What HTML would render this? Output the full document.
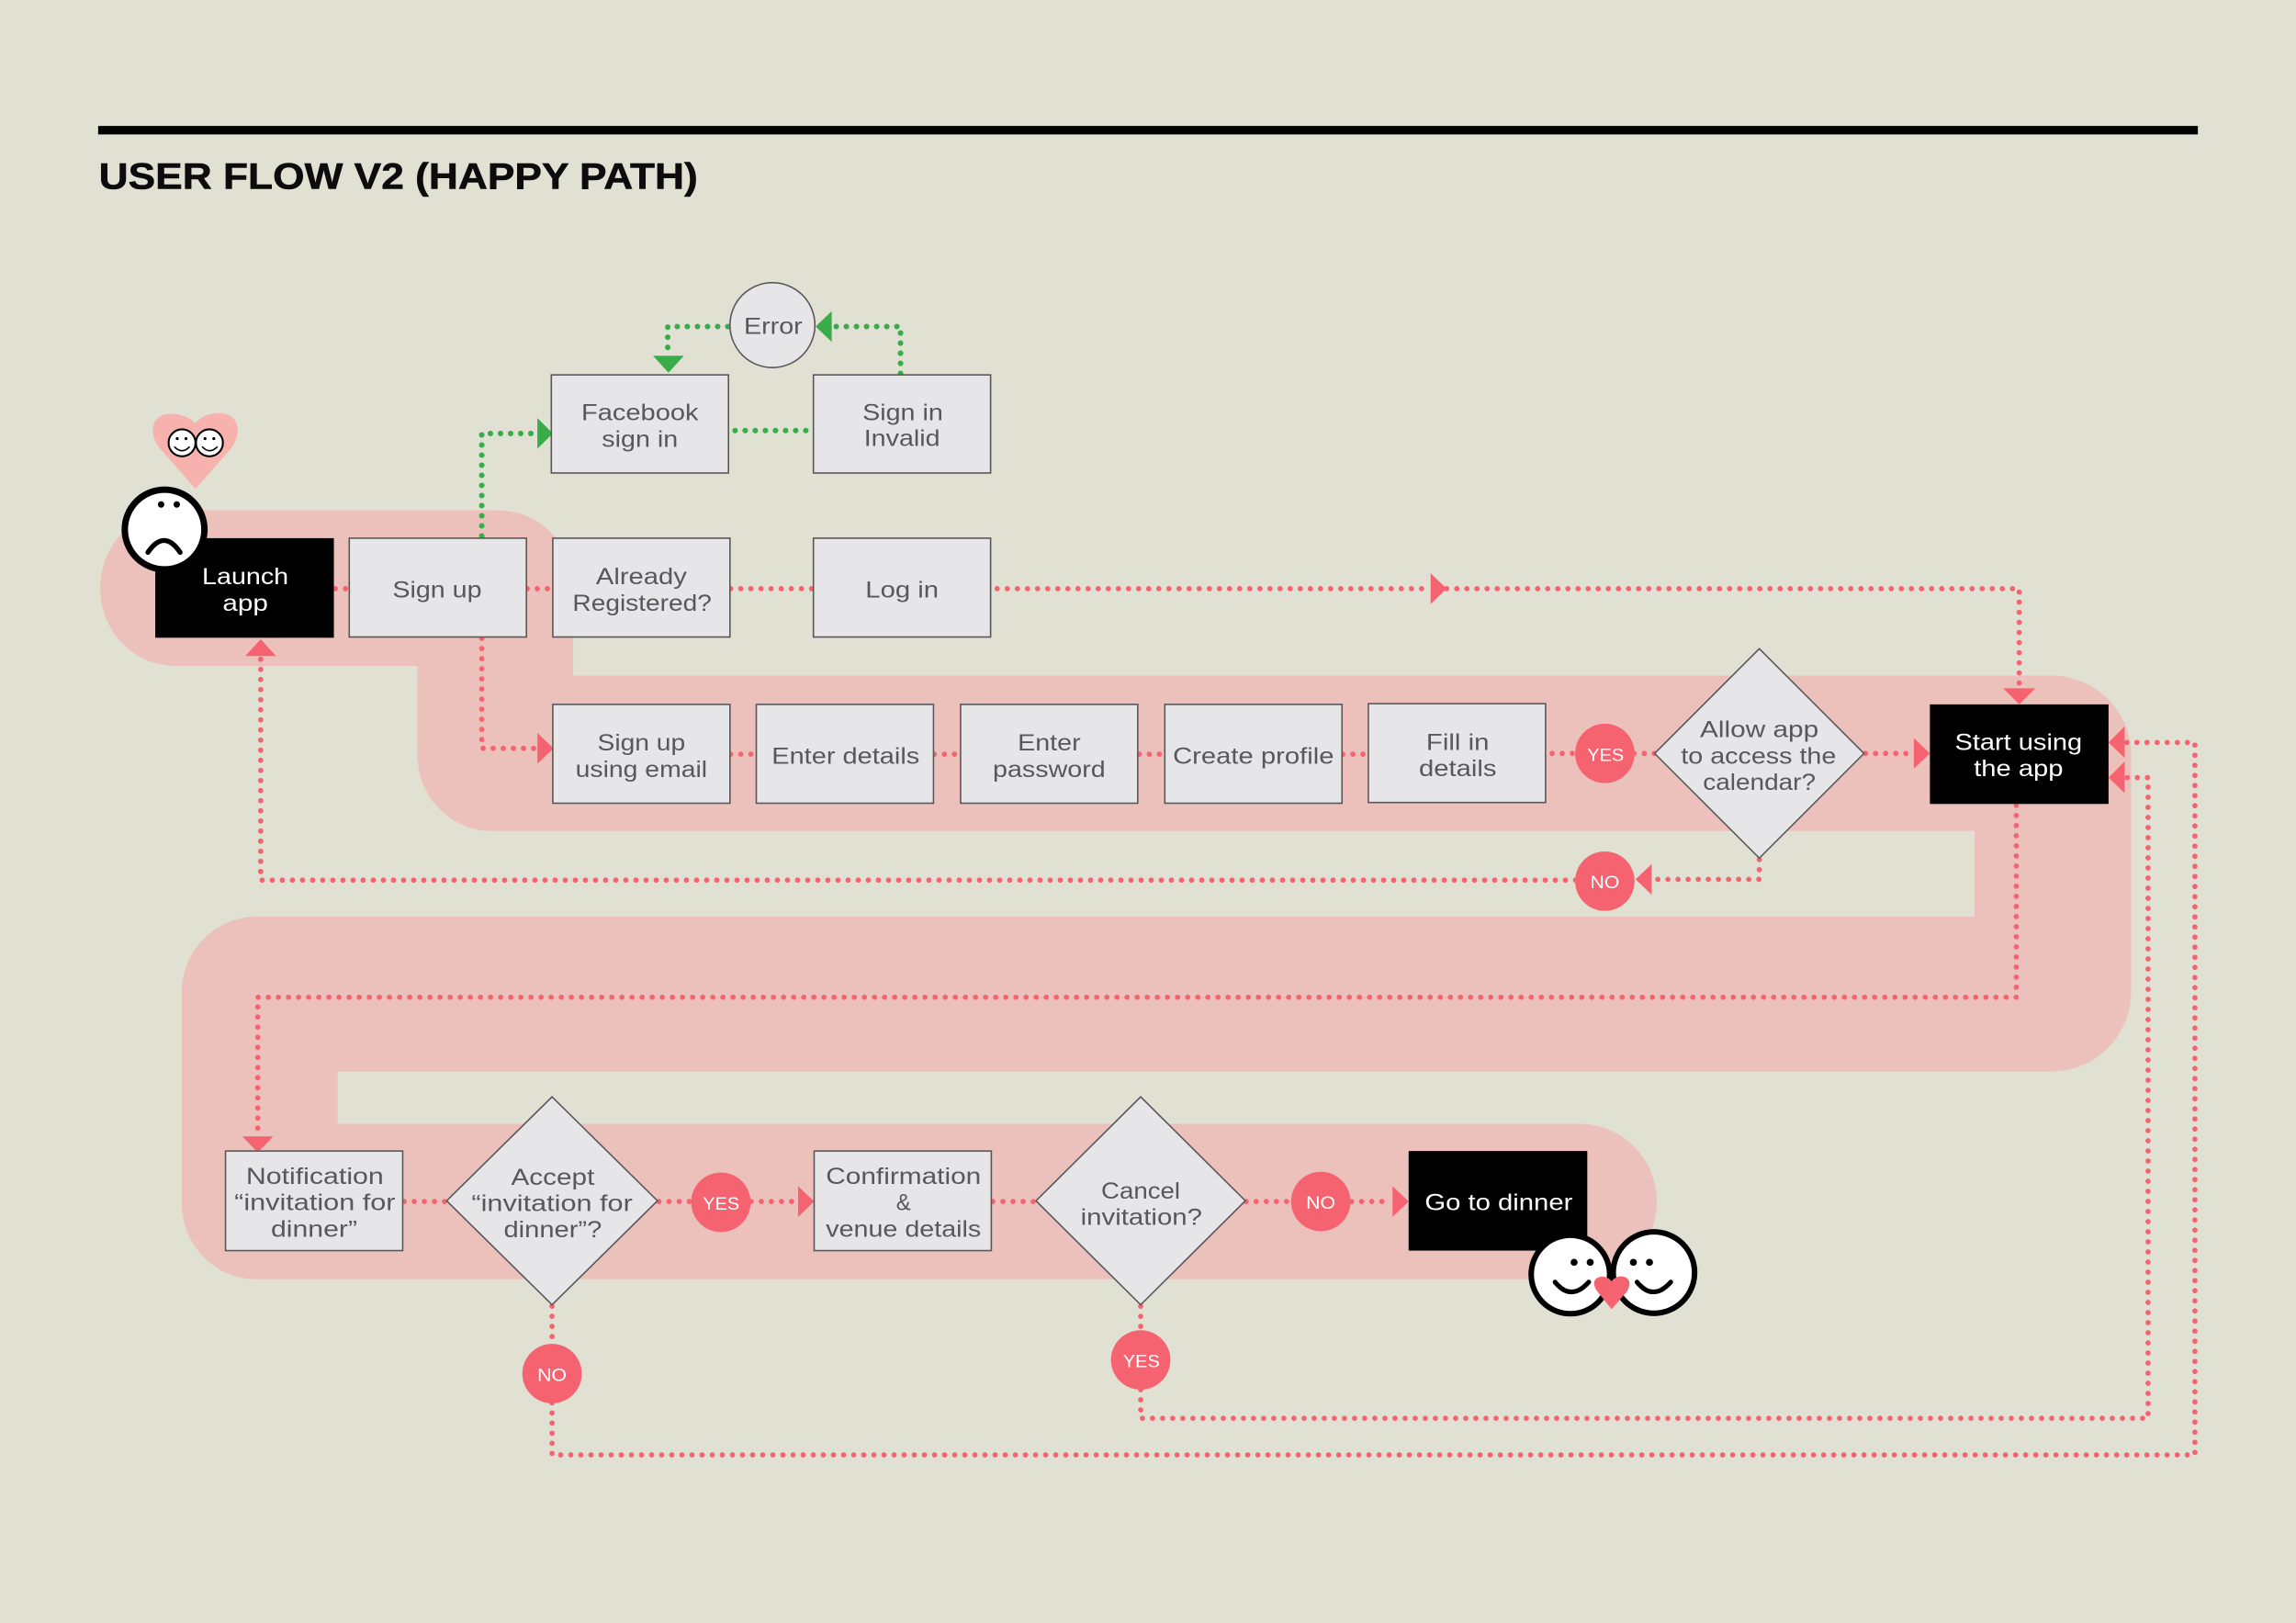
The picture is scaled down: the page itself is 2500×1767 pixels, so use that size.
<!DOCTYPE html>
<html><head><meta charset="utf-8"><style>
html,body{margin:0;padding:0;background:#e0e0d3}
svg{display:block}
text{font-family:"Liberation Sans",sans-serif}
.t{font-size:15.5px;fill:#58585a}
.w{font-size:15.5px;fill:#fff}
.l{font-size:12px;fill:#fff}
.b{fill:#e6e6e8;stroke:#58585a;stroke-width:1}
.r{fill:none;stroke:#f4636f;stroke-width:3.6;stroke-linecap:round;stroke-linejoin:round;stroke-dasharray:0 6.9}
.g{fill:none;stroke:#39ac4a;stroke-width:3.8;stroke-linecap:round;stroke-linejoin:round;stroke-dasharray:0 6.9}
.ra{fill:#f4636f}.ga{fill:#39ac4a}
</style></head><body>
<svg xmlns="http://www.w3.org/2000/svg" width="2500" height="1767" viewBox="0 0 1568 1108.3">
<rect width="1568" height="1108.3" fill="#e0e0d3"/>
<rect x="67" y="86" width="1434" height="5.8" fill="#000"/>
<text x="67.5" y="129" font-size="25" font-weight="bold" fill="#0c0c0c" stroke="#0c0c0c" stroke-width="0.35" textLength="409" lengthAdjust="spacingAndGlyphs">USER FLOW V2 (HAPPY PATH)</text>

<path fill="#ecc1bc" d="M119,348.5 H340 A51,52 0 0 1 391.4,400 V461.3 H1401 A54.5,54.5 0 0 1 1455.5,516 V677 A54.5,54.7 0 0 1 1401,731.7 H230.6 V767.5 H1079 A52.5,53 0 0 1 1131.5,820.5 A52.5,53 0 0 1 1079,873.6 H175 A51,52 0 0 1 124,822 V678 A51,52 0 0 1 175,626 H1348.5 V567.5 H336 A51,52 0 0 1 285,516 V454.7 H119 A51,53 0 0 1 68.4,402 A51,53 0 0 1 119,348.5 Z"/>

<!-- green connectors -->
<path class="g" d="M329,366 V296 H366"/>
<path class="g" d="M502,294 H555"/>
<path class="g" d="M497,223 H456 V242"/>
<path class="g" d="M615,255 V223 H569"/>
<polygon class="ga" points="367,285.5 377.5,296 367,306.5"/>
<polygon class="ga" points="446,243 467,243 456.5,254.5"/>
<polygon class="ga" points="568,212.5 568,233.5 557,223"/>

<!-- red connectors -->
<path class="r" d="M229,402 H238"/>
<path class="r" d="M360,402 H377"/>
<path class="r" d="M499,402 H555"/>
<path class="r" d="M681,402 H976"/>
<path class="r" d="M988,402 H1379 V469"/>
<path class="r" d="M329,436 V511 H366"/>
<path class="r" d="M499,515 H516"/>
<path class="r" d="M638,515 H656"/>
<path class="r" d="M778,515 H795"/>
<path class="r" d="M917,515 H934"/>
<path class="r" d="M1060,514.5 H1076"/>
<path class="r" d="M1116,514.5 H1130"/>
<path class="r" d="M1274,514.5 H1306"/>
<path class="r" d="M1201.5,587 V600.5 H1130"/>
<path class="r" d="M1076,601 H178 V449"/>
<path class="r" d="M1377,550 V681 H176 V775"/>
<path class="r" d="M276,820.5 H305"/>
<path class="r" d="M450,820.5 H472"/>
<path class="r" d="M513,820.5 H544"/>
<path class="r" d="M678,820.5 H707"/>
<path class="r" d="M851,820.5 H882"/>
<path class="r" d="M923,820.5 H950"/>
<path class="r" d="M377,892 V918"/>
<path class="r" d="M377,958 V993.5 H1499 V507 H1452"/>
<path class="r" d="M779,892 V908"/>
<path class="r" d="M779,949 V968.5 H1467 V531 H1452"/>
<polygon class="ra" points="977,391.5 988,402 977,412.5"/>
<polygon class="ra" points="1368,470 1390,470 1379,481"/>
<polygon class="ra" points="367,500.5 378,511 367,521.5"/>
<polygon class="ra" points="1307,504 1318,514.5 1307,525"/>
<polygon class="ra" points="1128,590 1128,611 1117,600.5"/>
<polygon class="ra" points="167.5,448 188.5,448 178,436.5"/>
<polygon class="ra" points="165.5,776 186.5,776 176,787"/>
<polygon class="ra" points="545,810 556,820.5 545,831"/>
<polygon class="ra" points="951,810 962,820.5 951,831"/>
<polygon class="ra" points="1451,496 1451,517.5 1440,507"/>
<polygon class="ra" points="1451,520 1451,541.5 1440,531"/>

<!-- boxes -->
<rect class="b" x="376.5" y="256" width="121" height="67"/>
<rect class="b" x="555.5" y="256" width="121" height="67"/>
<rect x="106" y="367.5" width="122" height="68" fill="#000"/>
<rect class="b" x="238.5" y="367.5" width="121" height="67.5"/>
<rect class="b" x="377.5" y="367.5" width="121" height="67.5"/>
<rect class="b" x="555.5" y="367.5" width="121" height="67.5"/>
<rect class="b" x="377.5" y="481" width="121" height="67.5"/>
<rect class="b" x="516.5" y="481" width="121" height="67.5"/>
<rect class="b" x="656" y="481" width="121" height="67.5"/>
<rect class="b" x="795.5" y="481" width="121" height="67.5"/>
<rect class="b" x="934.5" y="480.5" width="121" height="67.5"/>
<rect x="1318" y="481" width="122" height="68" fill="#000"/>
<rect class="b" x="154" y="786" width="121" height="68"/>
<rect class="b" x="556" y="786" width="121" height="68"/>
<rect x="962" y="786" width="122" height="68" fill="#000"/>
<polygon class="b" points="1201.5,443 1273,514.5 1201.5,586 1130,514.5"/>
<polygon class="b" points="377,749 449,820 377,891 305,820"/>
<polygon class="b" points="779,749 850.5,820 779,891 707.5,820"/>
<circle class="b" cx="527.5" cy="222" r="29"/>

<!-- red circles -->
<circle class="ra" cx="1096" cy="514.5" r="20.3"/>
<circle class="ra" cx="1096" cy="601.7" r="20.3"/>
<circle class="ra" cx="492.3" cy="821" r="20.3"/>
<circle class="ra" cx="902" cy="820.5" r="20.3"/>
<circle class="ra" cx="377" cy="938" r="20.3"/>
<circle class="ra" cx="779" cy="928.7" r="20.3"/>
<text class="l" x="1084" y="519.5" textLength="25" lengthAdjust="spacingAndGlyphs">YES</text>
<text class="l" x="1086" y="606.5" textLength="20" lengthAdjust="spacingAndGlyphs">NO</text>
<text class="l" x="480" y="826" textLength="25" lengthAdjust="spacingAndGlyphs">YES</text>
<text class="l" x="892" y="825.5" textLength="20" lengthAdjust="spacingAndGlyphs">NO</text>
<text class="l" x="367" y="943" textLength="20" lengthAdjust="spacingAndGlyphs">NO</text>
<text class="l" x="767" y="933.5" textLength="25" lengthAdjust="spacingAndGlyphs">YES</text>

<!-- labels -->
<text class="t" x="508" y="228" textLength="40" lengthAdjust="spacingAndGlyphs">Error</text>
<text class="t" x="397" y="287" textLength="80" lengthAdjust="spacingAndGlyphs">Facebook</text>
<text class="t" x="411" y="305" textLength="52" lengthAdjust="spacingAndGlyphs">sign in</text>
<text class="t" x="589" y="287" textLength="55" lengthAdjust="spacingAndGlyphs">Sign in</text>
<text class="t" x="590" y="304.5" textLength="52" lengthAdjust="spacingAndGlyphs">Invalid</text>
<text class="w" x="138" y="399" textLength="59" lengthAdjust="spacingAndGlyphs">Launch</text>
<text class="w" x="152" y="417" textLength="31" lengthAdjust="spacingAndGlyphs">app</text>
<text class="t" x="268" y="408" textLength="61" lengthAdjust="spacingAndGlyphs">Sign up</text>
<text class="t" x="407" y="399" textLength="62" lengthAdjust="spacingAndGlyphs">Already</text>
<text class="t" x="391" y="417" textLength="95" lengthAdjust="spacingAndGlyphs">Registered?</text>
<text class="t" x="591" y="408" textLength="50" lengthAdjust="spacingAndGlyphs">Log in</text>
<text class="t" x="408" y="512.5" textLength="60" lengthAdjust="spacingAndGlyphs">Sign up</text>
<text class="t" x="393" y="530.5" textLength="90" lengthAdjust="spacingAndGlyphs">using email</text>
<text class="t" x="527" y="521.5" textLength="101" lengthAdjust="spacingAndGlyphs">Enter details</text>
<text class="t" x="695" y="512.5" textLength="43" lengthAdjust="spacingAndGlyphs">Enter</text>
<text class="t" x="678" y="530.5" textLength="77" lengthAdjust="spacingAndGlyphs">password</text>
<text class="t" x="801" y="521.5" textLength="110" lengthAdjust="spacingAndGlyphs">Create profile</text>
<text class="t" x="974" y="512" textLength="43" lengthAdjust="spacingAndGlyphs">Fill in</text>
<text class="t" x="969" y="530" textLength="53" lengthAdjust="spacingAndGlyphs">details</text>
<text class="t" x="1161" y="503.5" textLength="81" lengthAdjust="spacingAndGlyphs">Allow app</text>
<text class="t" x="1148" y="521.5" textLength="106" lengthAdjust="spacingAndGlyphs">to access the</text>
<text class="t" x="1163" y="539.5" textLength="77" lengthAdjust="spacingAndGlyphs">calendar?</text>
<text class="w" x="1335" y="512" textLength="87" lengthAdjust="spacingAndGlyphs">Start using</text>
<text class="w" x="1348" y="530" textLength="61" lengthAdjust="spacingAndGlyphs">the app</text>
<text class="t" x="168" y="808.5" textLength="94" lengthAdjust="spacingAndGlyphs">Notification</text>
<text class="t" x="160" y="826.5" textLength="110" lengthAdjust="spacingAndGlyphs">“invitation for</text>
<text class="t" x="185" y="844.5" textLength="59" lengthAdjust="spacingAndGlyphs">dinner”</text>
<text class="t" x="349" y="809" textLength="57" lengthAdjust="spacingAndGlyphs">Accept</text>
<text class="t" x="322" y="827" textLength="110" lengthAdjust="spacingAndGlyphs">“invitation for</text>
<text class="t" x="344" y="845" textLength="67" lengthAdjust="spacingAndGlyphs">dinner”?</text>
<text class="t" x="564" y="808.5" textLength="106" lengthAdjust="spacingAndGlyphs">Confirmation</text>
<text class="t" x="612" y="826.5" textLength="10" lengthAdjust="spacingAndGlyphs">&amp;</text>
<text class="t" x="564" y="844.5" textLength="106" lengthAdjust="spacingAndGlyphs">venue details</text>
<text class="t" x="752" y="818.5" textLength="54" lengthAdjust="spacingAndGlyphs">Cancel</text>
<text class="t" x="738" y="836.5" textLength="83" lengthAdjust="spacingAndGlyphs">invitation?</text>
<text class="w" x="973" y="826.5" textLength="101" lengthAdjust="spacingAndGlyphs">Go to dinner</text>

<!-- sad face -->
<path d="M133.5,333.8 L109,306 C101,296 103,282.5 117,282.6 C125,282.6 130,286 133.5,289 C137,285 142,282 150,282.2 C164,282.5 165,296 158,306 Z" fill="#f7b2ae"/>
<g fill="#fff" stroke="#000" stroke-width="1.3">
<circle cx="124.3" cy="302.4" r="9.2"/><circle cx="143" cy="302.4" r="9.2"/></g>
<g fill="#000"><circle cx="121" cy="299.5" r="1"/><circle cx="127" cy="299.5" r="1"/><circle cx="140" cy="299.5" r="1"/><circle cx="146" cy="299.5" r="1"/></g>
<path d="M119,305 Q124.3,310.5 129.5,305 M138,305 Q143,310.5 148.5,305" fill="none" stroke="#000" stroke-width="1"/>
<circle cx="112.4" cy="361.6" r="27.2" fill="#fff" stroke="#000" stroke-width="4.4"/>
<circle cx="110" cy="344.5" r="2.2"/><circle cx="120.7" cy="344.5" r="2.2"/>
<path d="M101,377.2 Q112,361 123,377.2" fill="none" stroke="#000" stroke-width="3.4" stroke-linecap="round"/>

<!-- happy faces -->
<circle cx="1072.5" cy="870.3" r="26.8" fill="#fff" stroke="#000" stroke-width="3.8"/>
<circle cx="1129.5" cy="869" r="27.8" fill="#fff" stroke="#000" stroke-width="3.8"/>
<circle cx="1075" cy="862" r="2.4"/><circle cx="1086" cy="862" r="2.4"/>
<circle cx="1115.5" cy="862" r="2.4"/><circle cx="1126.5" cy="862" r="2.4"/>
<path d="M1062,875.5 Q1073,889 1085,875.5 M1118,875.5 Q1129,889 1141,875.5" fill="none" stroke="#000" stroke-width="3.2" stroke-linecap="round"/>
<path d="M1100.6,894 L1091,882 C1086,875 1090,871.5 1095,871.8 C1098,872 1100,874 1100.6,875 C1101.5,873.5 1104,871.6 1107,871.6 C1112,871.6 1115,875.5 1111,882 Z" fill="#f4636f"/>
</svg>
</body></html>
